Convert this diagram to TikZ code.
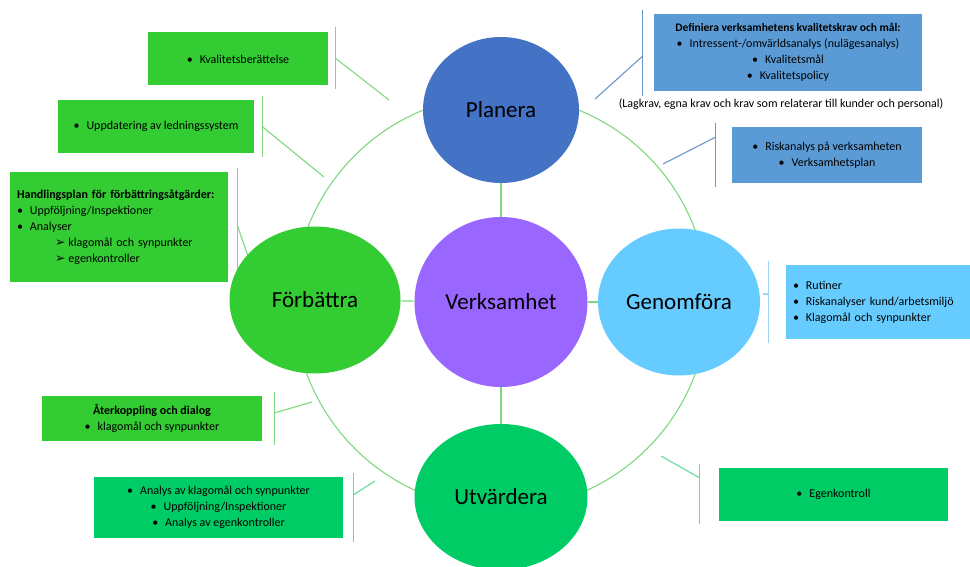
\documentclass[tikz,border=0pt]{standalone}
\usepackage{xcolor}
\usepackage{fontspec}
\setmainfont{Carlito}
\newfontfamily\symfont{DejaVu Sans}
\usepackage{tikz}
\usetikzlibrary{shapes.geometric}

\definecolor{planblue}{HTML}{4472C4}
\definecolor{verkpurple}{HTML}{9966FF}
\definecolor{forbgreen}{HTML}{33CC33}
\definecolor{genblue}{HTML}{66CCFF}
\definecolor{utvgreen}{HTML}{00CC66}
\definecolor{boxblue}{HTML}{5B9BD5}
\definecolor{ringgreen}{HTML}{7ED87E}
\definecolor{lineblue}{HTML}{6C97CC}
\definecolor{linesky}{HTML}{9FD3F2}
\definecolor{linemint}{HTML}{5FDE98}

\newcommand{\bul}{•\hspace{7pt}}
\newcommand{\arr}{{\symfont\fontsize{12.5}{16}\selectfont ➢}\hspace{3pt}}

\begin{document}
\begin{tikzpicture}[
	phase/.style={ellipse, inner sep=0pt, font=\fontsize{23}{27}\selectfont, text=black},
	infobox/.style={rectangle, inner sep=0pt, font=\fontsize{12}{16}\selectfont, align=center, text=black},
	ring/.style={color=ringgreen, line width=1.1pt},
	brace/.style={line width=1.1pt}
]
	\useasboundingbox (0pt, 0pt) rectangle (970pt, 566pt);
	\coordinate (hub) at (501pt, 264pt);
	\draw[ring] (hub) circle (207pt);

	\node[infobox, fill=forbgreen, minimum width=180pt, minimum height=53pt] (kvalitet) at (238pt, 507pt) {\bul Kvalitetsberättelse};
	\node[infobox, fill=forbgreen, minimum width=196pt, minimum height=53pt] (ledning) at (156pt, 439.5pt) {\bul Uppdatering av ledningssystem};
	\node[infobox, fill=forbgreen, minimum width=218pt, minimum height=110pt, text width=204pt, align=left] (handling) at (119pt, 339pt) {\textbf{Handlingsplan för förbättringsåtgärder:}\\ \bul Uppföljning/Inspektioner\\ \bul Analyser\\ \hspace*{38pt}\arr klagomål och synpunkter\\ \hspace*{38pt}\arr egenkontroller};
	\node[infobox, fill=forbgreen, minimum width=220pt, minimum height=45pt] (aterkoppling) at (152pt, 147.5pt) {\textbf{Återkoppling och dialog}\\ \bul klagomål och synpunkter};
	\node[infobox, fill=utvgreen, minimum width=249pt, minimum height=61pt] (analys) at (218.5pt, 58.5pt) {\bul Analys av klagomål och synpunkter\\ \bul Uppföljning/Inspektioner\\ \bul Analys av egenkontroller};
	\node[infobox, fill=utvgreen, minimum width=229pt, minimum height=53pt] (egenkontroll) at (833.5pt, 71.5pt) {\bul Egenkontroll};
	\node[infobox, fill=boxblue, minimum width=268pt, minimum height=77pt] (definiera) at (788pt, 513.5pt) {{\fontsize{11.5}{16}\selectfont\textbf{Definiera verksamhetens kvalitetskrav och mål:}}\\ \bul Intressent-/omvärldsanalys (nulägesanalys)\\ \bul Kvalitetsmål\\ \bul Kvalitetspolicy};
	\node[infobox] (krav) at (781pt, 462pt) {(Lagkrav, egna krav och krav som relaterar till kunder och personal)};
	\node[infobox, fill=boxblue, minimum width=190pt, minimum height=56pt] (riskanalys) at (827pt, 411pt) {\bul Riskanalys på verksamheten\\ \bul Verksamhetsplan};
	\node[infobox, fill=genblue, minimum width=184pt, minimum height=74pt, text width=170pt, align=left] (rutiner) at (878pt, 264pt) {\bul Rutiner\\ \bul Riskanalyser kund/arbetsmiljö\\ \bul Klagomål och synpunkter};

	\coordinate (kvalitettip) at (389pt, 466pt);
	\coordinate (ledningtip) at (324pt, 389pt);
	\coordinate (handlingtip) at (250pt, 304pt);
	\coordinate (aterkopplingtip) at (312pt, 164pt);
	\coordinate (analystip) at (375pt, 85pt);
	\coordinate (egenkontrolltip) at (661pt, 110pt);
	\coordinate (definieratip) at (595pt, 467pt);
	\coordinate (riskanalystip) at (663pt, 402pt);
	\coordinate (rutinertip) at (763pt, 272pt);

	\draw[brace, color=ringgreen] ([xshift=7pt, yshift=5.5pt]kvalitet.north east) -- ([xshift=7pt, yshift=-3.5pt]kvalitet.south east);
	\draw[brace, color=ringgreen] ([xshift=7pt, yshift=1pt]kvalitet.east) -- (kvalitettip);
	\draw[brace, color=ringgreen] ([xshift=8pt, yshift=4pt]ledning.north east) -- ([xshift=8pt, yshift=-4pt]ledning.south east);
	\draw[brace, color=ringgreen] ([xshift=8pt]ledning.east) -- (ledningtip);
	\draw[brace, color=ringgreen] ([xshift=9pt, yshift=4pt]handling.north east) -- ([xshift=9pt, yshift=-4pt]handling.south east);
	\draw[brace, color=ringgreen] ([xshift=9pt, yshift=2pt]handling.east) -- (handlingtip);
	\draw[brace, color=ringgreen] ([xshift=12pt, yshift=4pt]aterkoppling.north east) -- ([xshift=12pt, yshift=-4pt]aterkoppling.south east);
	\draw[brace, color=ringgreen] ([xshift=12pt, yshift=5.5pt]aterkoppling.east) -- (aterkopplingtip);
	\draw[brace, color=linemint] ([xshift=10pt, yshift=4pt]analys.north east) -- ([xshift=10pt, yshift=-4pt]analys.south east);
	\draw[brace, color=linemint] ([xshift=10pt, yshift=12.5pt]analys.east) -- (analystip);
	\draw[brace, color=linemint] ([xshift=-19pt, yshift=4pt]egenkontroll.north west) -- ([xshift=-19pt, yshift=-3pt]egenkontroll.south west);
	\draw[brace, color=linemint] ([xshift=-19pt, yshift=16.5pt]egenkontroll.west) -- (egenkontrolltip);
	\draw[brace, color=lineblue] ([xshift=-11pt, yshift=4pt]definiera.north west) -- ([xshift=-11pt, yshift=-5pt]definiera.south west);
	\draw[brace, color=lineblue] ([xshift=-11pt, yshift=-3.5pt]definiera.west) -- (definieratip);
	\draw[brace, color=lineblue] ([xshift=-16pt, yshift=4pt]riskanalys.north west) -- ([xshift=-16pt, yshift=-4pt]riskanalys.south west);
	\draw[brace, color=lineblue] ([xshift=-16pt, yshift=18pt]riskanalys.west) -- (riskanalystip);
	\draw[brace, color=linesky] ([xshift=-17pt, yshift=4pt]rutiner.north west) -- ([xshift=-17pt, yshift=-4pt]rutiner.south west);
	\draw[brace, color=linesky] ([xshift=-17pt, yshift=8pt]rutiner.west) -- (rutinertip);

	\node[phase, fill=planblue, minimum width=156pt, minimum height=146pt] (planera) at (501pt, 456pt) {Planera};
	\node[phase, fill=verkpurple, minimum width=173pt, minimum height=170pt] (verksamhet) at (hub) {Verksamhet};
	\node[phase, fill=forbgreen, minimum width=171pt, minimum height=147pt] (forbattra) at (315pt, 266pt) {Förbättra};
	\node[phase, fill=genblue, minimum width=162pt, minimum height=147pt] (genomfora) at (679pt, 264pt) {Genomföra};
	\node[phase, fill=utvgreen, minimum width=173pt, minimum height=146pt] (utvardera) at (501pt, 69pt) {Utvärdera};

	\draw[ring] (planera) -- (verksamhet);
	\draw[ring] (verksamhet) -- (utvardera);
	\draw[ring] (forbattra) -- (verksamhet);
	\draw[ring] (verksamhet) -- (genomfora);
\end{tikzpicture}
\end{document}
